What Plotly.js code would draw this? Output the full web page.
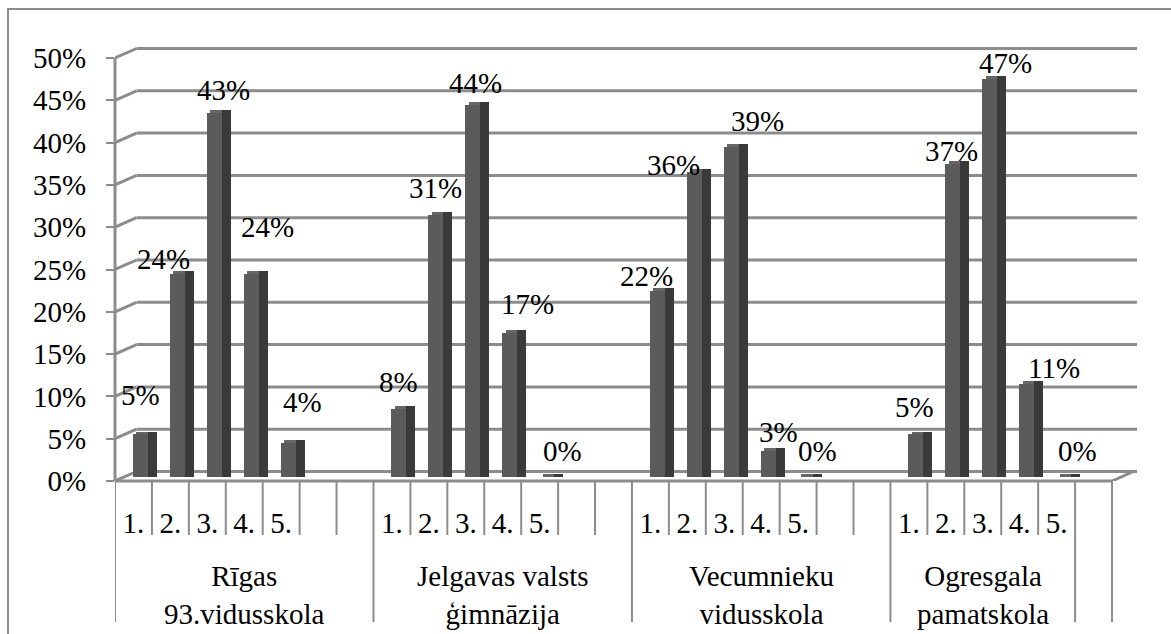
<!DOCTYPE html>
<html><head><meta charset="utf-8">
<script src="https://cdn.plot.ly/plotly-3.0.1.min.js"></script>
<style>html,body{margin:0;padding:0;background:#fff;overflow:hidden}#chart{width:1171px;height:634px}</style>
</head><body><div id="chart"></div>
<script>
// ---- data ----
const schools = ['Rīgas<br>93.vidusskola', 'Jelgavas valsts<br>ģimnāzija', 'Vecumnieku<br>vidusskola', 'Ogresgala<br>pamatskola'];
const answers = ['1.', '2.', '3.', '4.', '5.'];
const rigas = [5, 24, 43, 24, 4];
const jelgavas = [8, 31, 44, 17, 0];
const vecumnieku = [22, 36, 39, 3, 0];
const ogresgala = [5, 37, 47, 11, 0];
const yTicks = [0, 5, 10, 15, 20, 25, 30, 35, 40, 45, 50];
const yTickText = yTicks.map(v => v + '%');

// label placement offsets (px) relative to bar top, mimicking the original's 3D label placement
const labelDX = [0, -14, 9, 16, 14,  0, 0, 3, 18, 16,  -11, -21, 26, 10, 12,  -1, -1, 16, 27, 14];
const labelDY = [39, 15, 23, 47, 41,  27, 27, 22, 29, 26,  15, 7, 26, 19, 26,  27, 13, 16, 16, 26];

// ---- layout geometry ----
const W = 1171, H = 634;
const ml = 115, mr = 31, mt = 40, mb = 153;
const plotW = W - ml - mr, plotH = H - mt - mb;
const groupSizes = [7, 7, 7, 5, 1];           // slots per category group
const nSlots = groupSizes.reduce((a, b) => a + b, 0);
const slotPx = 997 / nSlots;                   // front axis spans 997 px
const xMax = plotW / slotPx;
const pxPerUnit = 8.46;
const yMax = plotH / pxPerUnit;
const dX = 21.5 / slotPx, dY = 9.5 / pxPerUnit; // 3D depth offsets
const barBase = 0.5;                            // bars sit mid-depth
const capH = 0.35;
const paperY = py => (H - mb - py) / plotH;
const paperX = px => (px - ml) / plotW;

const series = [rigas, jelgavas, vecumnieku, ogresgala];
const groupStart = [];
{ let s = 0; groupSizes.forEach(g => { groupStart.push(s); s += g; }); }

const barX = [], barV = [], labelText = [];
series.forEach((vals, g) => vals.forEach((v, k) => {
  barX.push(groupStart[g] + k); barV.push(v); labelText.push(v + '%');
}));
const tickVals = [], tickText = [];
series.forEach((vals, g) => answers.forEach((a, k) => { tickVals.push(groupStart[g] + k + 0.5); tickText.push(a); }));

const FONT = 'Liberation Serif';
const GRID = '#8c8c8c';

const front = {
  type: 'bar', x: barX, y: barV, base: barBase, offset: 0.487, width: 0.406,
  marker: { color: '#5b5b5b', line: { width: 0 } }, hoverinfo: 'skip', showlegend: false
};
const cap = {
  type: 'bar', x: barX, y: barX.map(() => capH), base: barV.map(v => v + barBase),
  offset: 0.58, width: 0.32,
  marker: { color: '#666666', line: { width: 0 } }, hoverinfo: 'skip', showlegend: false
};
const side = {
  type: 'bar', x: barX, y: barV.map(v => v + capH), base: barBase, offset: 0.893, width: 0.244,
  marker: { color: '#3a3a3a', line: { width: 0 } }, hoverinfo: 'skip', showlegend: false
};

const shapes = [];
// back wall gridlines + left wall diagonals
yTicks.forEach(v => {
  shapes.push({ type: 'line', xref: 'x', yref: 'y', x0: dX, x1: (1137 - ml) / slotPx, y0: v + dY, y1: v + dY,
    line: { color: GRID, width: 3 }, layer: 'below' });
  shapes.push({ type: 'line', xref: 'x', yref: 'y', x0: 0, x1: dX, y0: v, y1: v + dY,
    line: { color: GRID, width: 3 }, layer: 'below' });
});
// floor right edge
shapes.push({ type: 'line', xref: 'x', yref: 'y', x0: nSlots, x1: nSlots + dX, y0: 0, y1: dY,
  line: { color: GRID, width: 3 }, layer: 'below' });
// front vertical axis
shapes.push({ type: 'line', xref: 'paper', yref: 'y', x0: 0, x1: 0, y0: 0, y1: 50,
  line: { color: GRID, width: 3 } });
// front horizontal axis
shapes.push({ type: 'line', xref: 'x', yref: 'paper', x0: 0, x1: nSlots, y0: 0, y1: 0,
  line: { color: GRID, width: 3 } });
// category dividers
const longDiv = new Set(groupStart.concat([nSlots]));
for (let i = 0; i <= nSlots; i++) {
  const yEnd = longDiv.has(i) ? paperY(622) : paperY(535);
  shapes.push({ type: 'line', xref: 'x', yref: 'paper', x0: i, x1: i, y0: 0, y1: yEnd,
    line: { color: GRID, width: 2 } });
}
// outer chart border
shapes.push({ type: 'rect', xref: 'paper', yref: 'paper', x0: paperX(8), x1: paperX(1190), y0: paperY(660), y1: paperY(9),
  line: { color: GRID, width: 2 }, fillcolor: 'rgba(0,0,0,0)' });

const annotations = [];
barX.forEach((x, i) => {
  annotations.push({ xref: 'x', yref: 'y', x: x + 0.69, y: barV[i] + barBase, text: labelText[i],
    xshift: labelDX[i], yshift: labelDY[i], showarrow: false, xanchor: 'center', yanchor: 'middle',
    font: { family: FONT, size: 29, color: '#000' } });
});
schools.forEach((s, g) => {
  annotations.push({ xref: 'x', yref: 'paper', x: groupStart[g] + groupSizes[g] / 2, y: paperY(595), text: s,
    showarrow: false, xanchor: 'center', yanchor: 'middle', font: { family: FONT, size: 29, color: '#000' } });
});

const layout = {
  width: W, height: H, margin: { l: ml, r: mr, t: mt, b: mb, pad: 0 },
  paper_bgcolor: '#fff', plot_bgcolor: 'rgba(0,0,0,0)', barmode: 'overlay', bargap: 0,
  showlegend: false, font: { family: FONT },
  xaxis: { range: [0, xMax], tickmode: 'array', tickvals: tickVals, ticktext: tickText, ticks: '',
    showgrid: false, zeroline: false, showline: false, fixedrange: true, ticklabelstandoff: 22,
    tickfont: { family: FONT, size: 29, color: '#000' } },
  yaxis: { range: [0, yMax], tickmode: 'array', tickvals: yTicks, ticktext: yTickText, ticks: 'outside',
    ticklen: 8, tickwidth: 2, tickcolor: GRID, showgrid: false, zeroline: false, showline: false,
    fixedrange: true, ticklabelstandoff: 14, tickfont: { family: FONT, size: 29, color: '#000' } },
  shapes: shapes, annotations: annotations
};

Plotly.newPlot('chart', [front, cap, side], layout, { displayModeBar: false, staticPlot: true });
</script></body></html>
